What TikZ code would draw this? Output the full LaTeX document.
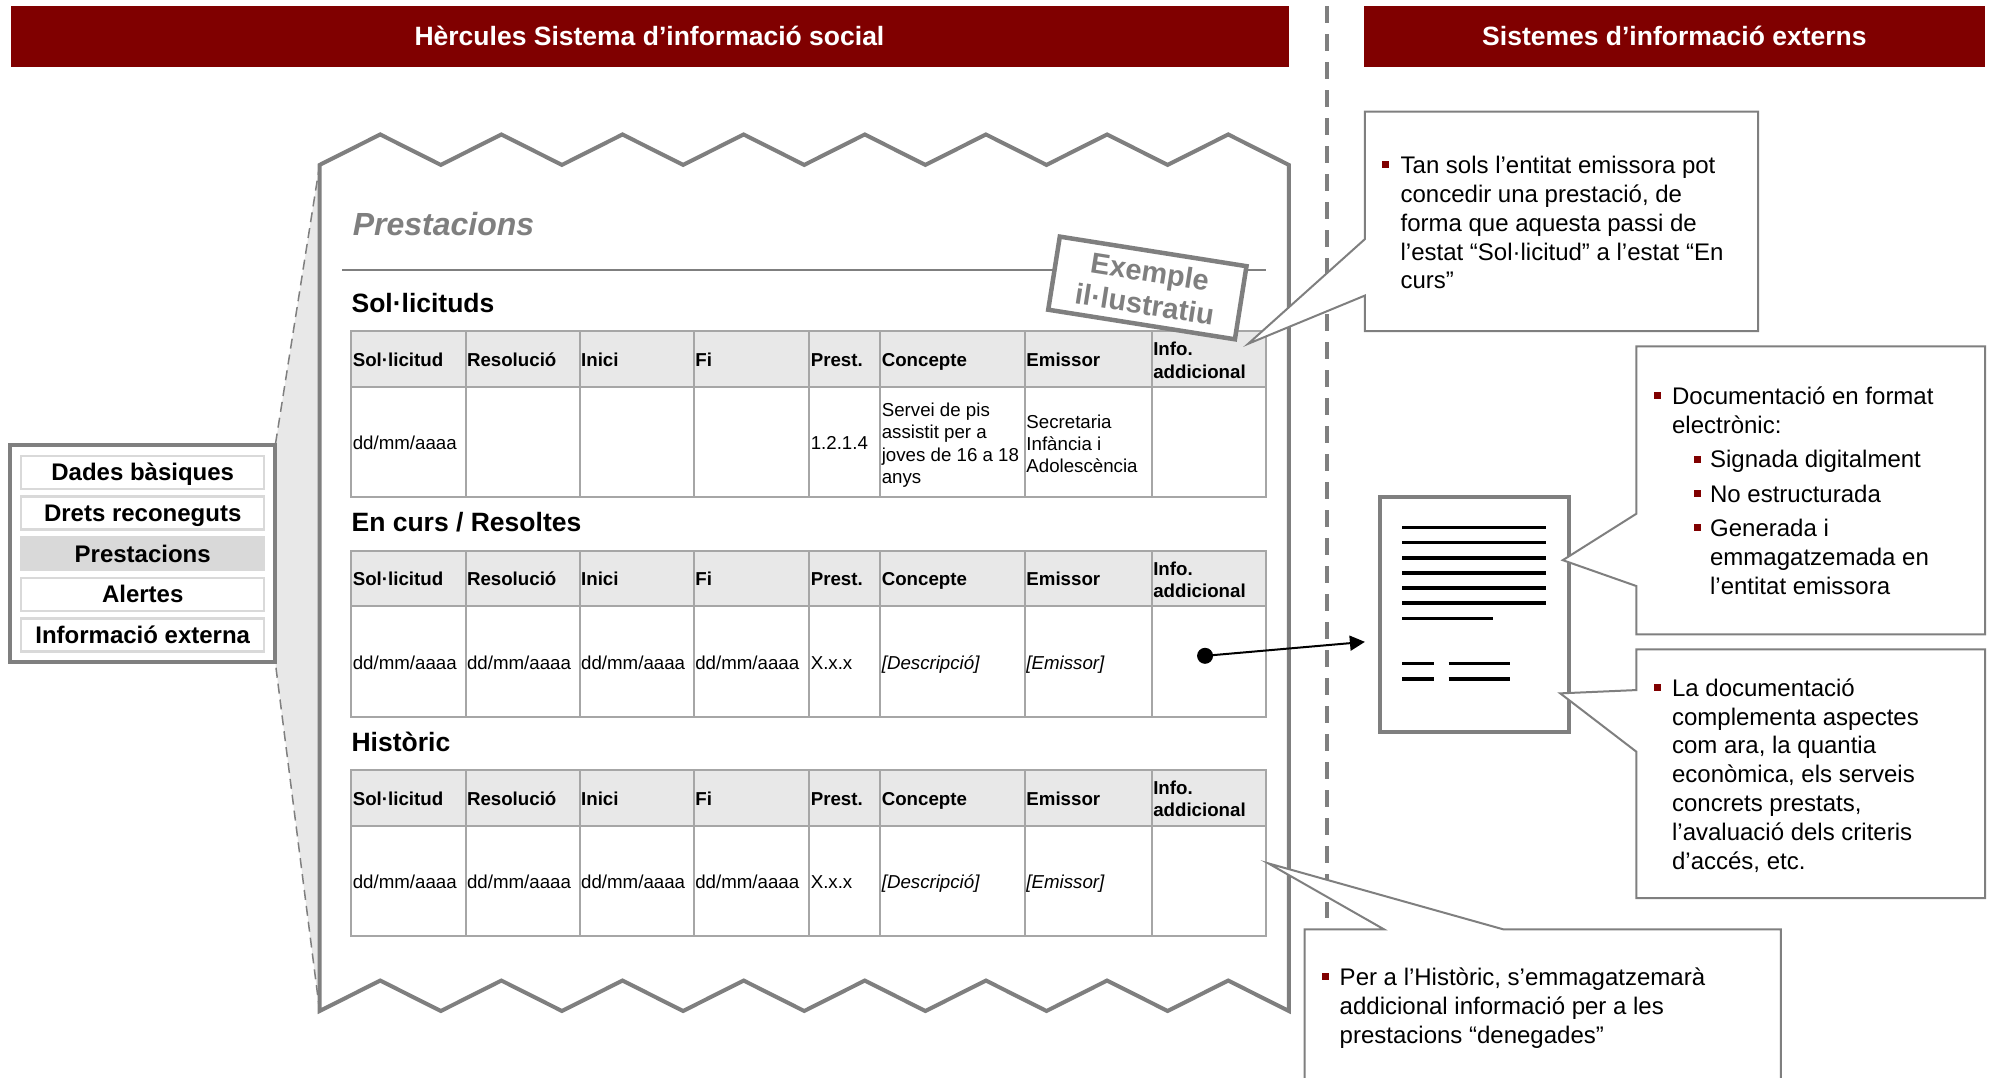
\documentclass[tikz,border=0pt]{standalone}
\usepackage{fontspec}
\setmainfont{Liberation Sans}
\usetikzlibrary{arrows.meta}
\definecolor{hdred}{HTML}{800000}
\definecolor{frame}{HTML}{7F7F7F}
\definecolor{tline}{HTML}{A6A6A6}
\definecolor{lgray}{HTML}{E8E8E8}
\definecolor{mgray}{HTML}{D9D9D9}
\newcommand{\fst}{\rule{0pt}{20pt}}
\tikzset{
  hdrbar/.style={fill=hdred,draw=none},
  hdrtext/.style={text=white,font={\fontsize{26.5}{32}\selectfont\bfseries},inner sep=0},
  calltext/.style={anchor=north west,inner sep=0,align=left,yshift=11.5pt,font={\fontsize{24}{28.8}\selectfont},text=black},
  celltext/.style={anchor=north west,inner sep=0,align=left,yshift=13.3pt,font={\fontsize{18.7}{22.3}\selectfont}},
  cellbold/.style={celltext,font={\fontsize{18.7}{22.3}\selectfont\bfseries}},
  cellital/.style={celltext,font={\fontsize{18.7}{22.3}\selectfont\itshape}},
  secttext/.style={anchor=west,inner sep=0,font={\fontsize{26.5}{32}\selectfont\bfseries}},
  menuitem/.style={draw=mgray,line width=2.5pt,minimum width=243pt,minimum height=33pt,inner sep=0,text height=19.4pt,text depth=2.6pt,font={\fontsize{24}{29}\selectfont\bfseries}},
  callout/.style={draw=frame,fill=white,line width=2pt,line join=miter},
  bul/.style={fill=hdred,draw=none,minimum size=7pt,inner sep=0},
  docline/.style={draw=black,line width=3.5pt},
}
\begin{document}
\begin{tikzpicture}[x=1.2685pt,y=-1.2685pt]
\useasboundingbox (0,0) rectangle (1568,849.8);
% header
\fill[hdrbar] (9,5) rectangle (1016,53);
\fill[hdrbar] (1075,5) rectangle (1565,53);
\node[hdrtext] (hleft) at (512,28) {Hèrcules Sistema d’informació social};
\node[hdrtext] (hright) at (1320,28) {Sistemes d’informació externs};
% separator
\draw[frame,line width=4pt,dash pattern=on 17pt off 11pt,dash phase=22pt] (1046,0) -- (1046,723.7);
% zoom wedge
\fill[lgray] (217,351) -- (252,130) -- (252,797) -- (217,522) -- cycle;
\draw[frame,line width=1.5pt,dash pattern=on 10pt off 6pt] (252,130) -- (217,351);
\draw[frame,line width=1.5pt,dash pattern=on 10pt off 6pt] (252,797) -- (217,522);
% document frame
\draw[frame,fill=white,line width=4pt,line join=miter]
  (252,130)
  \foreach \i in {1,3,...,15}{ -- ({252+47.75*\i},106) -- ({252+47.75*(\i+1)},130) }
  -- (1016,797)
  \foreach \i in {15,13,...,1}{ -- ({252+47.75*\i},773) -- ({252+47.75*(\i-1)},797) }
  -- cycle;
% menu
\draw[frame,fill=white,line width=4pt] (8,351) rectangle (217,522);
\node[menuitem] (m1) at (112.5,372.5) {Dades bàsiques};
\node[menuitem] (m2) at (112.5,404.5) {Drets reconeguts};
\node[menuitem,fill=mgray] (m3) at (112.5,436.5) {Prestacions};
\node[menuitem] (m4) at (112.5,468.5) {Alertes};
\node[menuitem] (m5) at (112.5,500.5) {Informació externa};
% title
\node[anchor=west,inner sep=0,text=frame,font={\fontsize{32}{38}\selectfont\bfseries\itshape}] (title) at (278,177) {Prestacions};
\draw[frame,line width=2pt] (270,213) -- (998,213);
\node[secttext] (s1) at (277,239) {Sol·licituds};
\node[secttext] (s2) at (277,411.5) {En curs / Resoltes};
\node[secttext] (s3) at (277,585) {Històric};
% tables
\foreach \n/\y in {a/261,b/434,c/607}{
  \fill[lgray] (277,\y) rectangle (998,\y+44);
  \draw[tline,line width=2pt] (277,\y) rectangle (998,\y+131);
  \draw[tline,line width=2pt] (277,\y+44) -- (998,\y+44);
  \foreach \x in {367,457,547,638,694,808,908}{
    \draw[tline,line width=2pt] (\x,\y) -- (\x,\y+131);
  }
  \foreach \x/\t in {278/Sol·licitud,368/Resolució,458/Inici,548/Fi,639/Prest.,695/Concepte,809/Emissor}{
    \node[cellbold] (\n h\x) at (\x,\y+22.5) {\fst\t};
  }
  \node[cellbold] (\n hinfo) at (909,\y+14) {\fst Info.\\addicional};
}
\node[celltext] (a1) at (278,349) {\fst dd/mm/aaaa};
\node[celltext] (a5) at (639,349) {\fst 1.2.1.4};
\node[celltext] (a6) at (695,323) {\fst Servei de pis\\assistit per a\\joves de 16 a 18\\anys};
\node[celltext] (a7) at (809,332) {\fst Secretaria\\Infància i\\Adolescència};
\foreach \n/\y in {b/522,c/695}{
  \foreach \x in {278,368,458,548}{
    \node[celltext] (\n d\x) at (\x,\y) {\fst dd/mm/aaaa};
  }
  \node[celltext] (\n d639) at (639,\y) {\fst X.x.x};
  \node[cellital] (\n d695) at (695,\y) {\fst [Descripció]};
  \node[cellital] (\n d809) at (809,\y) {\fst [Emissor]};
}
% stamp
\node[draw=frame,fill=white,line width=4.5pt,rotate=-9,minimum width=189pt,minimum height=74pt,inner sep=0,align=center,text=frame,font={\fontsize{29}{33}\selectfont\bfseries}] (stamp) at (904.5,227) {Exemple\\il·lustratiu};
% document icon
\draw[frame,fill=white,line width=4pt] (1088,392) rectangle (1237,577);
\foreach \y in {415.9,427.7,439.8,451.6,463.4,475.4}{
  \draw[docline] (1105.6,\y) -- (1219,\y);
}
\draw[docline] (1105.6,487.6) -- (1177,487.6);
\draw[docline] (1105.5,522.9) -- (1130.5,522.9);
\draw[docline] (1142,522.9) -- (1190,522.9);
\draw[docline] (1105.5,535.4) -- (1130.5,535.4);
\draw[docline] (1142,535.4) -- (1190,535.4);
% callouts
\draw[callout] (1076,88) -- (1386,88) -- (1386,261) -- (1076,261) -- (1076,233) -- (984,271) -- (1076,188.5) -- cycle;
\draw[callout] (1290,273) -- (1565,273) -- (1565,500) -- (1290,500) -- (1290,462) -- (1232,441.6) -- (1290,405) -- cycle;
\draw[callout] (1290,512) -- (1565,512) -- (1565,708) -- (1290,708) -- (1290,592.6) -- (1230,546.6) -- (1290,544) -- cycle;
\fill[white] (1028.4,849.8) -- (1028.4,732.6) -- (1091,732.6) -- (999.8,680.6) -- (1185,732.6) -- (1404,732.6) -- (1404,849.8) -- cycle;
\draw[callout,fill=none] (1028.4,849.8) -- (1028.4,732.6) -- (1091,732.6) -- (999.8,680.6) -- (1185,732.6) -- (1404,732.6) -- (1404,849.8);
% callout texts
\node[bul] (b1) at (1092.5,130) {};
\node[calltext] (c1) at (1104,130) {\fst Tan sols l’entitat emissora pot\\concedir una prestació, de\\forma que aquesta passi de\\l’estat “Sol·licitud” a l’estat “En\\curs”};
\node[bul] (b2) at (1307,312) {};
\node[calltext] (c2) at (1318,312) {\fst Documentació en format\\electrònic:};
\node[bul] (b21) at (1338,362) {};
\node[calltext] (c21) at (1348,362) {\fst Signada digitalment};
\node[bul] (b22) at (1338,389) {};
\node[calltext] (c22) at (1348,389) {\fst No estructurada};
\node[bul] (b23) at (1338,416) {};
\node[calltext] (c23) at (1348,416) {\fst Generada i\\emmagatzemada en\\l’entitat emissora};
\node[bul] (b3) at (1307,542) {};
\node[calltext] (c3) at (1318,542) {\fst La documentació\\complementa aspectes\\com ara, la quantia\\econòmica, els serveis\\concrets prestats,\\l’avaluació dels criteris\\d’accés, etc.};
\node[bul] (b4) at (1045,770) {};
\node[calltext] (c4) at (1056,770) {\fst Per a l’Històric, s’emmagatzemarà\\addicional informació per a les\\prestacions “denegades”};
% arrow
\node[circle,fill=black,minimum size=16pt,inner sep=0] (dot) at (950,517) {};
\coordinate (arrowend) at (1076,506);
\draw[-{Triangle[length=15pt,width=15pt]},line width=2pt] (dot.center) -- (arrowend);
\end{tikzpicture}
\end{document}
